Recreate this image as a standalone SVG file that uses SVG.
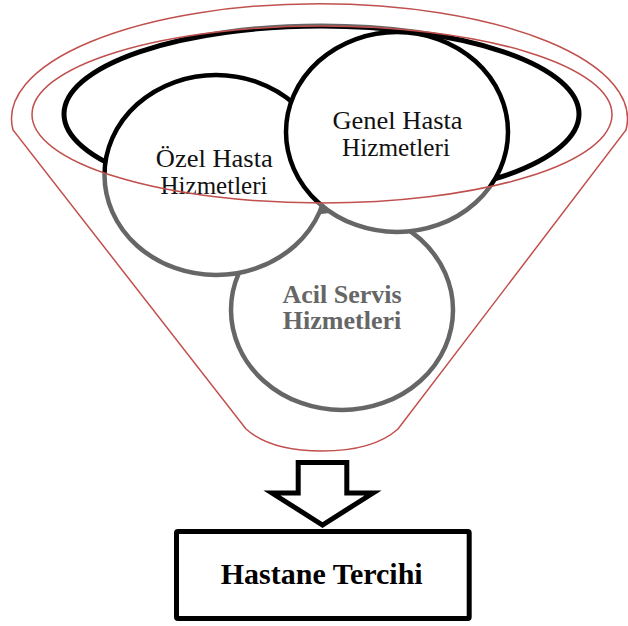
<svg xmlns="http://www.w3.org/2000/svg" width="628" height="626" viewBox="0 0 628 626">
<defs>
<radialGradient id="rim" gradientUnits="userSpaceOnUse" cx="0" cy="0" r="1.2" gradientTransform="translate(322 114.5) scale(290 88.5)">
<stop offset="0" stop-color="#000"/>
<stop offset="0.8333" stop-color="#000"/>
<stop offset="0.8333" stop-color="#666"/>
<stop offset="1" stop-color="#666"/>
</radialGradient>
</defs>
<style>
.ring{fill:#fff;stroke:url(#rim);stroke-width:4.5}
.red{fill:none;stroke:#C0504D;stroke-width:1.5}
.lbl{font-family:"Liberation Serif","Times New Roman",serif;font-size:25px;text-anchor:middle;fill:#111}
.bold{font-family:"Liberation Serif","Times New Roman",serif;font-weight:bold;text-anchor:middle}
</style>
<rect width="628" height="626" fill="#fff"/>
<g id="rim-ellipse">
<ellipse cx="321.5" cy="114" rx="257.5" ry="88" fill="#fff" stroke="url(#rim)" stroke-width="5"/>
</g>
<g id="acil">
<ellipse class="ring" cx="342" cy="310" rx="111" ry="100"/>
<text class="bold" x="342" y="303.3" font-size="26" fill="#666">Acil Servis</text>
<text class="bold" x="342" y="329" font-size="26" fill="#666">Hizmetleri</text>
</g>
<g id="ozel">
<ellipse class="ring" cx="216" cy="175" rx="111.5" ry="100"/>
<text class="lbl" transform="translate(214.3 167) scale(1.06 1)">Özel Hasta</text>
<text class="lbl" transform="translate(214 193.5)" fill="#333">Hizmetleri</text>
</g>
<g id="genel">
<ellipse class="ring" cx="397" cy="132" rx="111" ry="100"/>
<text class="lbl" transform="translate(397.5 129.3) scale(1.06 1)">Genel Hasta</text>
<text class="lbl" transform="translate(396 156.3) scale(1.01 1)">Hizmetleri</text>
</g>
<g id="funnel">
<ellipse class="red" cx="322" cy="114.5" rx="290" ry="88.5"/>
<path class="red" d="M13,130 A308,115 0 1 1 626,130 L398,429 C380,445 355,451 322,451 C289,451 264,445 246,429 Z"/>
</g>
<g id="connectors">
<polygon points="298.2,462.5 346.8,462.5 346.8,493 373,493 322.5,525 272,493 298.2,493" fill="#fff" stroke="#000" stroke-width="5" stroke-linejoin="miter" stroke-miterlimit="10"/>
</g>
<g id="hastane">
<rect x="176.5" y="531.5" width="292.7" height="87" rx="1.5" fill="#fff" stroke="#000" stroke-width="5"/>
<text class="bold" x="321.7" y="584" font-size="30" fill="#000">Hastane Tercihi</text>
</g>
</svg>
